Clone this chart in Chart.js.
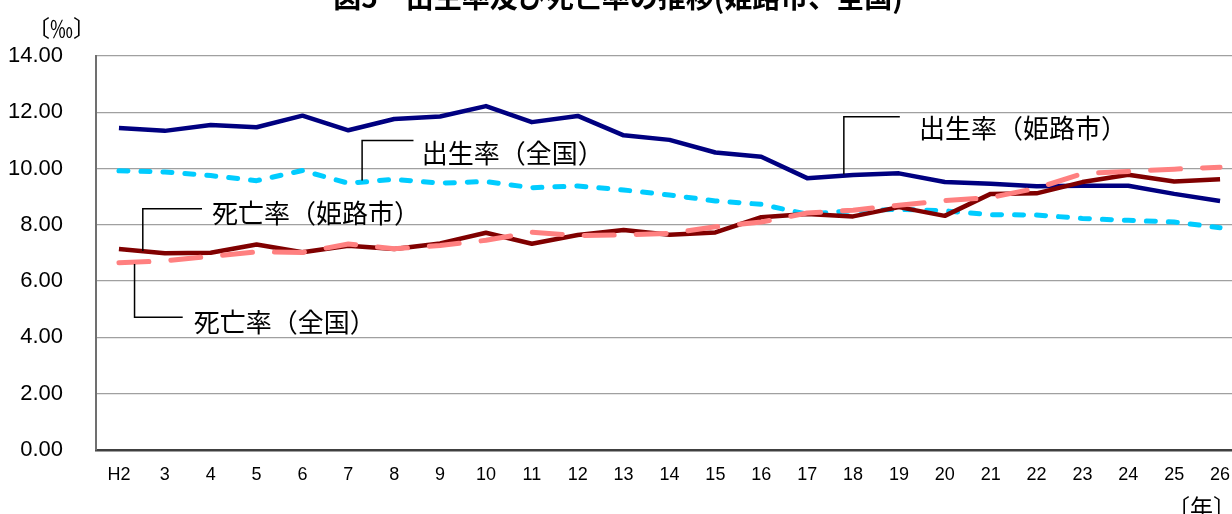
<!DOCTYPE html>
<html>
<head>
<meta charset="utf-8">
<script src="https://cdn.jsdelivr.net/npm/chart.js@4/dist/chart.umd.min.js"></script>
<style>
    html, body { margin: 0; padding: 0; overflow: hidden; background: #fff; }
    #wrap { position: relative; width: 1246px; height: 514px; }
</style>
</head>
<body>
<div id="wrap"><canvas id="graph"></canvas></div>
<script>

// years (Heisei)
var years = ['H2', '3', '4', '5', '6', '7', '8', '9', '10', '11', '12', '13', '14',
    '15', '16', '17', '18', '19', '20', '21', '22', '23', '24', '25', '26'];

// birth rate, Himeji
var birthHimeji = [11.44, 11.34, 11.55, 11.47, 11.88, 11.36, 11.76, 11.85, 12.22, 11.65, 11.87, 11.18, 11.02,
    10.57, 10.42, 9.66, 9.77, 9.83, 9.52, 9.46, 9.37, 9.39, 9.39, 9.10, 8.85];

// birth rate, national
var birthNational = [9.92, 9.88, 9.75, 9.57, 9.93, 9.48, 9.62, 9.48, 9.54, 9.32, 9.38, 9.24, 9.06,
    8.85, 8.73, 8.38, 8.50, 8.55, 8.50, 8.36, 8.35, 8.23, 8.16, 8.10, 7.90];

// death rate, Himeji
var deathHimeji = [7.14, 6.99, 7.01, 7.30, 7.03, 7.26, 7.14, 7.34, 7.72, 7.33, 7.64, 7.82, 7.65,
    7.73, 8.27, 8.39, 8.30, 8.63, 8.32, 9.10, 9.12, 9.52, 9.78, 9.54, 9.62];

// death rate, national
var deathNational = [6.65, 6.72, 6.88, 7.04, 7.02, 7.32, 7.15, 7.27, 7.45, 7.74, 7.62, 7.64, 7.70,
    7.93, 8.10, 8.42, 8.52, 8.70, 8.86, 8.97, 9.30, 9.82, 9.90, 9.98, 10.05];

var yTicks = [0, 2, 4, 6, 8, 10, 12, 14];

var seriesNames = ['出生率（姫路市）', '出生率（全国）', '死亡率（姫路市）', '死亡率（全国）'];


// callout labels: vertical leader at index x, from yTop down to yBot, then text to the right
var callouts = [
    { text: seriesNames[0], x: 15.80, yTop: 11.84, yBot: 9.80, hEnd: 17.02, tx: 17.44, ty: 11.45 },
    { text: seriesNames[1], x: 5.30, yTop: 11.00, yBot: 9.58, hEnd: 6.42, tx: 6.60, ty: 10.55 },
    { text: seriesNames[2], x: 0.52, yTop: 8.57, yBot: 7.07, hEnd: 1.81, tx: 2.03, ty: 8.42 }
];
// this one hangs down from the line
var calloutBelow = { text: seriesNames[3], x: 0.34, yTop: 6.61, yBot: 4.72, hEnd: 1.39, tx: 1.63, ty: 4.56 };

var CJK = '"Noto Sans CJK JP", "Noto Sans", sans-serif';

var extras = {
    id: 'extras',
    afterDraw: function(chart){
        var ctx = chart.ctx;
        var xs = chart.scales.x, ys = chart.scales.y;
        ctx.save();

        // title (cut off at the top in the original)
        ctx.fillStyle = '#000';
        ctx.font = 'bold 28px ' + CJK;
        ctx.textAlign = 'center';
        ctx.textBaseline = 'alphabetic';
        ctx.fillText('図5　出生率及び死亡率の推移(姫路市、全国)', 618, 8);

        // units
        ctx.font = '23px ' + CJK;
        ctx.textAlign = 'left';
        ctx.textBaseline = 'middle';
        ctx.fillText('〔‰〕', 27, 28);
        ctx.fillText('〔年〕', 1167, 507);

        // callouts
        ctx.strokeStyle = '#000';
        ctx.lineWidth = 1.5;
        ctx.font = '26px ' + CJK;
        callouts.forEach(function(c){
            var x = xs.getPixelForValue(c.x);
            ctx.beginPath();
            ctx.moveTo(x, ys.getPixelForValue(c.yBot));
            ctx.lineTo(x, ys.getPixelForValue(c.yTop));
            ctx.lineTo(xs.getPixelForValue(c.hEnd), ys.getPixelForValue(c.yTop));
            ctx.stroke();
            ctx.fillText(c.text, xs.getPixelForValue(c.tx), ys.getPixelForValue(c.ty));
        });

        var c = calloutBelow;
        var x = xs.getPixelForValue(c.x);
        ctx.beginPath();
        ctx.moveTo(x, ys.getPixelForValue(c.yTop));
        ctx.lineTo(x, ys.getPixelForValue(c.yBot));
        ctx.lineTo(xs.getPixelForValue(c.hEnd), ys.getPixelForValue(c.yBot));
        ctx.stroke();
        ctx.fillText(c.text, xs.getPixelForValue(c.tx), ys.getPixelForValue(c.ty));

        ctx.restore();
    }
};


var data = {
    labels: years,
    datasets: [
        {
            label: seriesNames[3],
            data: deathNational,
            borderColor: '#ff8080',
            borderWidth: 5,
            borderDash: [30, 22],
            borderCapStyle: 'round',
            order: 0
        },
        {
            label: seriesNames[2],
            data: deathHimeji,
            borderColor: '#800000',
            borderWidth: 4.5,
            order: 1
        },
        {
            label: seriesNames[1],
            data: birthNational,
            borderColor: '#00ccff',
            borderWidth: 5,
            borderDash: [9, 13],
            borderCapStyle: 'round',
            order: 2
        },
        {
            label: seriesNames[0],
            data: birthHimeji,
            borderColor: '#000080',
            borderWidth: 4.5,
            order: 3
        }
    ]
};

var context = document.querySelector('#graph').getContext('2d');

var chart = new Chart(context, {
    type: 'line',
    data: data,
    plugins: [extras],
    options: {
        responsive: true,
        maintainAspectRatio: false,
        animation: false,
        layout: {
            padding: { top: 56, right: 3, left: 0, bottom: 0 }
        },
        elements: {
            point: { radius: 0 },
            line: { tension: 0, fill: false, borderJoinStyle: 'round' }
        },
        plugins: {
            legend: { display: false },
            title: { display: false },
            tooltip: { enabled: false }
        },
        scales: {
            x: {
                offset: true,
                grid: { display: false },
                border: { display: true, color: '#404040', width: 2.5 },
                ticks: {
                    color: '#000',
                    font: { family: '"Liberation Sans", Arial, sans-serif', size: 18 },
                    padding: 6,
                    maxRotation: 0,
                    autoSkip: false
                },
                afterFit: function(scale){ scale.height = 64; }
            },
            y: {
                min: yTicks[0],
                max: yTicks[yTicks.length - 1],
                afterBuildTicks: function(scale){
                    scale.ticks = yTicks.map(function(v){ return { value: v }; });
                },
                grid: { color: '#a0a0a0', lineWidth: 1.3, drawTicks: false },
                border: { display: true, color: '#707070', width: 2 },
                ticks: {
                    color: '#000',
                    font: { family: '"Liberation Sans", Arial, sans-serif', size: 22 },
                    padding: 33,
                    callback: function(v){ return Number(v).toFixed(2); }
                },
                afterFit: function(scale){ scale.width = 96; }
            }
        }
    }
});
</script>
</body>
</html>
